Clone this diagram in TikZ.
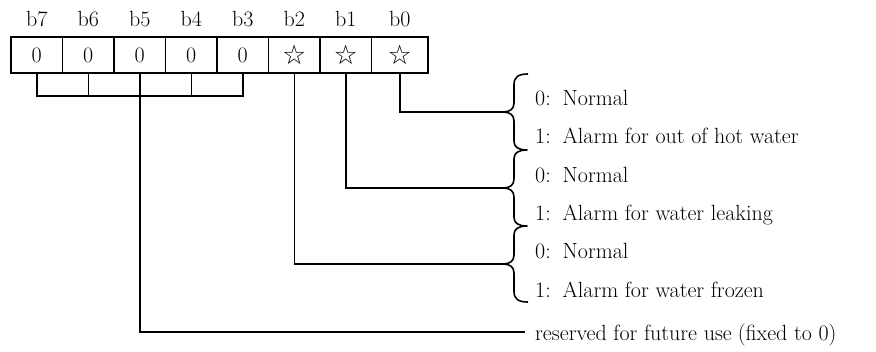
\documentclass[tikz,border=0pt]{standalone}
\usepackage{fontspec}
\newfontfamily\symfont{DejaVu Sans}
\begin{document}
\begin{tikzpicture}[x=1pt,y=-1pt,
  every node/.style={font=\fontsize{22}{26}\selectfont, inner sep=0pt},
  cell/.style={draw, line width=1.5pt, minimum height=36pt, minimum width=51.5pt, anchor=center},
  star/.style={font=\symfont\fontsize{27}{29}\selectfont},
  bitlabel/.style={anchor=base},
  desc/.style={anchor=base west},
  wire/.style={line width=1.5pt},
  bracepath/.style={line width=1.6pt, line join=round}]
\useasboundingbox (0,0) rectangle (876,351);
% register cells
\node[cell] (c7) at (36.75,55) {0};
\node[cell] (c6) at (88.25,55) {0};
\node[cell] (c5) at (139.75,55) {0};
\node[cell] (c4) at (191.25,55) {0};
\node[cell] (c3) at (242.75,55) {0};
\node[cell, star] (c2) at (294.25,55) {☆};
\node[cell, star] (c1) at (345.75,55) {☆};
\node[cell, star, minimum width=56.5pt] (c0) at (399.75,55) {☆};
% bit labels
\node[bitlabel] (l7) at (36.75,26) {b7};
\node[bitlabel] (l6) at (88.25,26) {b6};
\node[bitlabel] (l5) at (139.75,26) {b5};
\node[bitlabel] (l4) at (191.25,26) {b4};
\node[bitlabel] (l3) at (242.75,26) {b3};
\node[bitlabel] (l2) at (294.25,26) {b2};
\node[bitlabel] (l1) at (345.75,26) {b1};
\node[bitlabel] (l0) at (399.75,26) {b0};
% brace chain
\draw[bracepath] (528,74) .. controls (518,74) and (514,77) .. (514,85)
  -- (514,103) .. controls (514,109) and (510,112) .. (503,112) coordinate (k0)
  .. controls (510,112) and (514,115) .. (514,121)
  -- (514,141) .. controls (514,147) and (518,150) .. (527,150)
  .. controls (518,150) and (514,153) .. (514,159)
  -- (514,179) .. controls (514,185) and (510,188) .. (503,188) coordinate (k1)
  .. controls (510,188) and (514,191) .. (514,197)
  -- (514,217) .. controls (514,223) and (518,226) .. (527,226)
  .. controls (518,226) and (514,229) .. (514,235)
  -- (514,255) .. controls (514,261) and (510,264) .. (503,264) coordinate (k2)
  .. controls (510,264) and (514,267) .. (514,273)
  -- (514,291) .. controls (514,299) and (518,302) .. (528,302);
% wires from bits
\draw[wire] (c0.south) |- (k0);
\draw[wire] (c1.south) |- (k1);
\draw[wire] (c2.south) |- (k2);
\coordinate (bar) at (0,96);
\coordinate (resend) at (525,332);
\draw[wire] (c7.south) |- (c3.south |- bar) -- (c3.south);
\draw[wire] (c6.south) -- (c6.south |- bar);
\draw[wire] (c4.south) -- (c4.south |- bar);
\draw[wire] (c5.south) |- (resend);
% descriptions
\node[desc] (d1) at (535,105) {0:\kern3pt{} Normal};
\node[desc] (d2) at (535,143.5) {1:\kern3pt{} Alarm for out of hot water};
\node[desc] (d3) at (535,182) {0:\kern3pt{} Normal};
\node[desc] (d4) at (535,220) {1:\kern3pt{} Alarm for water leaking};
\node[desc] (d5) at (535,258.5) {0:\kern3pt{} Normal};
\node[desc] (d6) at (535,297) {1:\kern3pt{} Alarm for water frozen};
\node[desc] (d7) at (535,340) {reserved for future use\kern6pt(fixed to 0)};
\end{tikzpicture}
\end{document}
